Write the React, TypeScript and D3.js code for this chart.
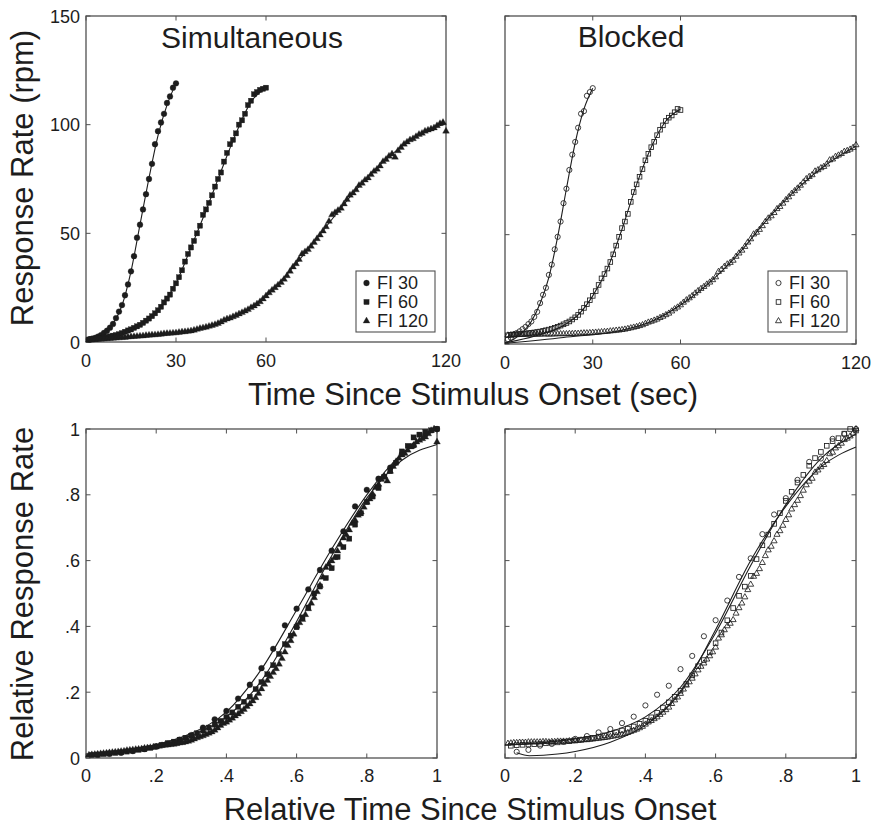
import React from "react";
import * as d3 from "d3";

const FONT = "'Liberation Sans', Arial, Helvetica, sans-serif";
const INK = "#1d1d1d";
const FRAME = "#505050";

// ---------- Simultaneous (response rate, rpm), 1-s bins starting at t = 1 ----------
const simFI30 = [1.2, 1.5, 1.9, 2.5, 3.2, 4.2, 5.2, 6.6, 8.3, 11.0, 14.0, 17.0, 21.5, 26.5, 32.5, 39.5, 48, 54, 61, 68, 75, 82, 91, 97, 101, 105, 110, 113, 117, 119];
const simFI60 = [1.1, 1.2, 1.4, 1.6, 1.8, 2.0, 2.3, 2.6, 2.9, 3.2, 3.6, 4.1, 4.7, 5.3, 5.8, 6.5, 7.2, 7.9, 8.8, 9.8, 10.8, 11.9, 13.2, 14.6, 16.2, 18.2, 20.0, 21.8, 24.5, 27.0, 29.8, 33.0, 37.0, 40.5, 43.5, 46.5, 50.0, 53.5, 58.5, 61, 64, 67.5, 71.5, 75, 78, 83, 87, 91, 93, 96, 100, 102, 105, 109, 111, 114, 115, 116, 116.5, 117];
const simFI120 = [
  0.9, 1.0, 1.1, 1.2, 1.3, 1.4, 1.5, 1.6, 1.7, 1.8,
  1.9, 2.0, 2.1, 2.3, 2.4, 2.5, 2.6, 2.7, 2.8, 3.0,
  3.1, 3.2, 3.3, 3.4, 3.6, 3.8, 3.9, 4.0, 4.1, 4.2,
  4.4, 4.6, 4.7, 4.9, 5.1, 5.4, 5.8, 6.2, 6.5, 6.8,
  7.2, 7.6, 8.0, 8.5, 9.2, 10.0, 10.6, 11.0, 11.6, 12.2,
  12.9, 13.5, 14.2, 14.9, 15.8, 16.6, 17.5, 18.5, 19.8, 21.2,
  22.6, 23.8, 25.0, 26.2, 27.4, 28.8, 30.5, 32.5, 34.5, 36.0,
  38.0, 40.5, 41.5, 42.5, 44.0, 45.8, 47.5, 49.2, 51.0, 53.0,
  55.5, 58.5, 59.5, 60.5, 61.5, 63.5, 65.5, 67.5, 68.5, 70.0,
  72.0, 73.0, 74.5, 75.5, 77.0, 78.5, 79.5, 81.0, 83.0, 84.0,
  85.5, 86.5, 85.0, 88.0, 89.5, 91.0, 92.0, 93.0, 93.5, 94.5,
  95.5, 96.0, 97.0, 97.5, 98.0, 98.5, 99.5, 100.5, 101.0, 97.0,
];

// ---------- Blocked (response rate, rpm) ----------
const blkFI30 = [2.2, 2.9, 4.4, 5.0, 5.8, 6.8, 7.8, 9.1, 10.3, 12.4, 14.7, 18.7, 22.5, 25.7, 31.6, 36.3, 43.3, 49, 56, 64.4, 71, 79.6, 86.6, 92.4, 98.9, 105.3, 106.5, 113.5, 115.2, 117];
const blkFI60 = [
  4.0, 4.2, 4.3, 4.4, 4.5, 4.6, 4.8, 5.0, 5.1, 5.3,
  5.5, 5.7, 6.0, 6.3, 6.6, 7.0, 7.4, 7.9, 8.4, 9.0,
  9.6, 10.3, 11.2, 12.2, 13.3, 14.8, 16.5, 18.2, 20.0, 22.0,
  24.2, 27.0, 30.0, 32.0, 34.5, 37.5, 41.0, 45.0, 49.0, 53.0,
  56.0, 59.5, 65.0, 69.5, 73.0, 76.5, 80.0, 84.0, 87.0, 90.0,
  92.5, 95.5, 98.0, 100.0, 102.0, 103.5, 104.5, 106.0, 107.5, 107.0,
];
const blkFI120 = [
  4.0, 4.1, 4.2, 4.2, 4.3, 4.3, 4.3, 4.4, 4.4, 4.4,
  4.4, 4.4, 4.5, 4.5, 4.4, 4.5, 4.5, 4.6, 4.6, 4.6,
  4.6, 4.7, 4.7, 4.8, 4.8, 4.9, 5.0, 5.0, 5.1, 5.2,
  5.3, 5.4, 5.5, 5.6, 5.7, 5.9, 6.0, 6.2, 6.3, 6.5,
  6.7, 7.0, 7.3, 7.6, 7.9, 8.3, 8.7, 9.3, 9.9, 10.3,
  10.8, 11.3, 12.0, 12.6, 13.3, 14.0, 15.0, 16.0, 16.8, 17.8,
  19.0, 20.1, 21.0, 22.0, 23.2, 24.3, 25.3, 26.2, 27.3, 28.2,
  29.3, 30.6, 33.1, 34.0, 35.4, 36.5, 37.2, 38.2, 40.0, 41.5,
  42.8, 44.5, 46.5, 48.0, 50.2, 51.0, 52.3, 54.0, 55.9, 57.5,
  58.5, 60.0, 61.8, 62.8, 64.3, 65.9, 67.2, 68.8, 70.0, 71.2,
  72.5, 74.0, 75.5, 76.5, 77.3, 79.0, 79.6, 80.5, 81.1, 82.2,
  84.1, 84.5, 85.7, 86.3, 87.0, 88.0, 88.4, 89.0, 89.8, 91.0,
];

// ---------- fitted curves [time, rate] ----------
const fitSim30: [number, number][] = [[0, 1.0], [3, 1.9], [6, 4.0], [9, 8.4], [12, 16.8], [15, 32.5], [18, 54], [21, 75.5], [24, 95], [27, 109], [30, 119]];
const fitSim60: [number, number][] = [[0, 1.0], [10, 3.2], [20, 9.8], [25, 16.4], [30, 27], [35, 43.5], [40, 60.5], [45, 78.5], [50, 96], [55, 110.5], [60, 117]];
const fitSim120: [number, number][] = [[0, 0.8], [20, 2.9], [40, 6.8], [50, 12.2], [60, 21], [70, 36], [80, 53], [90, 70], [100, 84], [110, 94.5], [120, 100.5]];
const fitBlk30: [number, number][] = [[0, 0.6], [3, 2.2], [6, 5.3], [9, 10.3], [12, 18.5], [15, 30.5], [18, 49], [21, 71], [24, 92], [27, 107.5], [30, 117]];
const fitBlk60: [number, number][] = [[0, 0.5], [10, 3.5], [20, 8.5], [25, 13.3], [30, 22], [35, 34.5], [40, 52.5], [45, 73], [50, 90], [55, 102], [60, 107.5]];
const fitBlk120: [number, number][] = [[0, 0.3], [20, 3.0], [40, 6.3], [50, 10.3], [60, 17.8], [70, 28.2], [80, 41.5], [90, 57.5], [100, 71.2], [110, 82.2], [120, 90.5]];

// relative fits [relative time, relative rate]
const fitRelSimA: [number, number][] = [[0, 0.012], [0.1, 0.02], [0.2, 0.04], [0.3, 0.075], [0.4, 0.14], [0.5, 0.27], [0.6, 0.45], [0.7, 0.635], [0.8, 0.8], [0.9, 0.925], [1, 1.0]];
const fitRelSimB: [number, number][] = [[0, 0.008], [0.1, 0.016], [0.2, 0.035], [0.3, 0.068], [0.4, 0.125], [0.5, 0.235], [0.6, 0.415], [0.7, 0.615], [0.8, 0.79], [0.9, 0.905], [1, 0.953]];
const fitRelBlkA: [number, number][] = [[0, 0.04], [0.1, 0.046], [0.2, 0.058], [0.3, 0.08], [0.4, 0.125], [0.5, 0.215], [0.6, 0.38], [0.7, 0.585], [0.8, 0.77], [0.9, 0.91], [1, 0.985]];
const fitRelBlkB: [number, number][] = [[0.033, 0.016], [0.07, 0.007], [0.15, 0.012], [0.2, 0.02], [0.3, 0.048], [0.4, 0.1], [0.5, 0.2], [0.6, 0.39], [0.7, 0.6], [0.8, 0.765], [0.9, 0.885], [1, 0.945]];

// ---------- ticks / labels ----------
const secTicks = [0, 30, 60, 120];
const secTickLabels = ["0", "30", "60", "120"];
const rpmTicks = [0, 50, 100, 150];
const rpmTickLabels = ["0", "50", "100", "150"];
const relTicks = [0, 0.2, 0.4, 0.6, 0.8, 1];
const relTickLabels = ["0", ".2", ".4", ".6", ".8", "1"];
const intervals = [30, 60, 120];
const legendLabels = ["FI 30", "FI 60", "FI 120"];
const shapes = ["circle", "square", "triangle"] as const;
type Shape = (typeof shapes)[number];

function toPoints(vals: number[]): [number, number][] {
  return vals.map((v, i) => [i + 1, v]);
}
function toRelative(vals: number[], fi: number): [number, number][] {
  const mx = d3.max(vals) as number;
  return vals.map((v, i) => [(i + 1) / fi, v / mx]);
}

function Marker({ shape, x, y, filled }: { shape: Shape; x: number; y: number; filled: boolean }) {
  const fill = filled ? INK : "none";
  const sw = filled ? 0.3 : 0.85;
  if (shape === "circle") {
    return <circle cx={x} cy={y} r={filled ? 2.9 : 2.6} fill={fill} stroke={INK} strokeWidth={sw} />;
  }
  if (shape === "square") {
    const s = filled ? 5.2 : 4.6;
    return <rect x={x - s / 2} y={y - s / 2} width={s} height={s} fill={fill} stroke={INK} strokeWidth={sw} />;
  }
  const s = filled ? 6.8 : 6.0;
  const h = s * 0.866;
  const pts = `${x},${y - (h * 2) / 3} ${x - s / 2},${y + h / 3} ${x + s / 2},${y + h / 3}`;
  return <polygon points={pts} fill={fill} stroke={INK} strokeWidth={sw} />;
}

type Box = { x0: number; x1: number; y0: number; y1: number };

function Panel(props: {
  box: Box;
  xDomain: [number, number];
  yDomain: [number, number];
  xTicks: number[];
  xTickLabels: string[];
  xLabelY: number;
  yTicks: number[];
  yTickLabels: string[] | null;
  series: [number, number][][];
  fits: [number, number][][];
  filled: boolean;
  legend?: { x: number; y: number; w: number; h: number };
  title?: { text: string; x: number; y: number };
}) {
  const { box, xDomain, yDomain, xTicks, xTickLabels, xLabelY, yTicks, yTickLabels, series, fits, filled, legend, title } = props;
  const x = d3.scaleLinear().domain(xDomain).range([box.x0, box.x1]);
  const y = d3.scaleLinear().domain(yDomain).range([box.y1, box.y0]);
  const line = d3
    .line<[number, number]>()
    .x((d) => x(d[0]))
    .y((d) => y(d[1]))
    .curve(d3.curveMonotoneX);
  const TL = 4.5;
  return (
    <g>
      <rect x={box.x0} y={box.y0} width={box.x1 - box.x0} height={box.y1 - box.y0} fill="#fff" stroke={FRAME} strokeWidth={1.3} />
      {xTicks.map((t, i) => (
        <g key={"xt" + i}>
          <line x1={x(t)} x2={x(t)} y1={box.y1} y2={box.y1 - TL} stroke={FRAME} strokeWidth={1} />
          <line x1={x(t)} x2={x(t)} y1={box.y0} y2={box.y0 + TL} stroke={FRAME} strokeWidth={1} />
          <text x={x(t)} y={xLabelY} textAnchor="middle" fontSize={18} fill={INK} fontFamily={FONT}>
            {xTickLabels[i]}
          </text>
        </g>
      ))}
      {yTicks.map((t, i) => (
        <g key={"yt" + i}>
          <line x1={box.x0} x2={box.x0 + TL} y1={y(t)} y2={y(t)} stroke={FRAME} strokeWidth={1} />
          <line x1={box.x1} x2={box.x1 - TL} y1={y(t)} y2={y(t)} stroke={FRAME} strokeWidth={1} />
          {yTickLabels && (
            <text x={box.x0 - 6} y={y(t) + 6.5} textAnchor="end" fontSize={18} fill={INK} fontFamily={FONT}>
              {yTickLabels[i]}
            </text>
          )}
        </g>
      ))}
      {fits.map((f, i) => (
        <path key={"f" + i} d={line(f) || ""} fill="none" stroke={INK} strokeWidth={1.1} />
      ))}
      {series.map((s, si) => (
        <g key={"s" + si}>
          {s.map((p, pi) => (
            <Marker key={pi} shape={shapes[si]} x={x(p[0])} y={y(p[1])} filled={filled} />
          ))}
        </g>
      ))}
      {title && (
        <text x={title.x} y={title.y} textAnchor="middle" fontSize={30} fill={INK} fontFamily={FONT}>
          {title.text}
        </text>
      )}
      {legend && (
        <g>
          <rect x={legend.x} y={legend.y} width={legend.w} height={legend.h} fill="#fff" stroke={FRAME} strokeWidth={1.1} />
          {legendLabels.map((lab, i) => {
            const cy = legend.y + 12 + i * 19;
            return (
              <g key={lab}>
                <Marker shape={shapes[i]} x={legend.x + 10.5} y={cy} filled={filled} />
                <text x={legend.x + 21} y={cy + 6.3} fontSize={18} fill={INK} fontFamily={FONT}>
                  {lab}
                </text>
              </g>
            );
          })}
        </g>
      )}
    </g>
  );
}

export default function App() {
  const simSeries = [toPoints(simFI30), toPoints(simFI60), toPoints(simFI120)];
  const blkSeries = [toPoints(blkFI30), toPoints(blkFI60), toPoints(blkFI120)];
  const simRel = [toRelative(simFI30, intervals[0]), toRelative(simFI60, intervals[1]), toRelative(simFI120, intervals[2])];
  const blkRel = [toRelative(blkFI30, intervals[0]), toRelative(blkFI60, intervals[1]), toRelative(blkFI120, intervals[2])];

  return (
    <div style={{ position: "absolute", left: 0, top: 0, width: 873, height: 826, background: "#fff" }}>
      <svg width={873} height={826} viewBox="0 0 873 826" style={{ display: "block" }}>
        <rect x={0} y={0} width={873} height={826} fill="#fff" />
        <Panel
          box={{ x0: 86, x1: 446, y0: 16, y1: 342 }}
          xDomain={[0, 120]}
          yDomain={[0, 150]}
          xTicks={secTicks}
          xTickLabels={secTickLabels}
          xLabelY={366.5}
          yTicks={rpmTicks}
          yTickLabels={rpmTickLabels}
          series={simSeries}
          fits={[fitSim30, fitSim60, fitSim120]}
          filled={true}
          legend={{ x: 356, y: 271, w: 79, h: 61 }}
          title={{ text: "Simultaneous", x: 252, y: 48 }}
        />
        <Panel
          box={{ x0: 505, x1: 856, y0: 16, y1: 344 }}
          xDomain={[0, 120]}
          yDomain={[0, 150]}
          xTicks={secTicks}
          xTickLabels={secTickLabels}
          xLabelY={368.5}
          yTicks={rpmTicks}
          yTickLabels={null}
          series={blkSeries}
          fits={[fitBlk30, fitBlk60, fitBlk120]}
          filled={false}
          legend={{ x: 768, y: 271, w: 79, h: 61 }}
          title={{ text: "Blocked", x: 631, y: 47 }}
        />
        <Panel
          box={{ x0: 86, x1: 437, y0: 429, y1: 758 }}
          xDomain={[0, 1]}
          yDomain={[0, 1]}
          xTicks={relTicks}
          xTickLabels={relTickLabels}
          xLabelY={781.5}
          yTicks={relTicks}
          yTickLabels={relTickLabels}
          series={simRel}
          fits={[fitRelSimA, fitRelSimB]}
          filled={true}
        />
        <Panel
          box={{ x0: 505, x1: 856, y0: 429, y1: 758 }}
          xDomain={[0, 1]}
          yDomain={[0, 1]}
          xTicks={relTicks}
          xTickLabels={relTickLabels}
          xLabelY={781.5}
          yTicks={relTicks}
          yTickLabels={null}
          series={blkRel}
          fits={[fitRelBlkA, fitRelBlkB]}
          filled={false}
        />
        <text transform="translate(33,178) rotate(-90)" textAnchor="middle" fontSize={31} fill={INK} fontFamily={FONT}>
          Response Rate (rpm)
        </text>
        <text transform="translate(33,594) rotate(-90)" textAnchor="middle" fontSize={31} fill={INK} fontFamily={FONT}>
          Relative Response Rate
        </text>
        <text x={473} y={405} textAnchor="middle" fontSize={31} fill={INK} fontFamily={FONT}>
          Time Since Stimulus Onset (sec)
        </text>
        <text x={470} y={820} textAnchor="middle" fontSize={31} fill={INK} fontFamily={FONT}>
          Relative Time Since Stimulus Onset
        </text>
      </svg>
    </div>
  );
}
